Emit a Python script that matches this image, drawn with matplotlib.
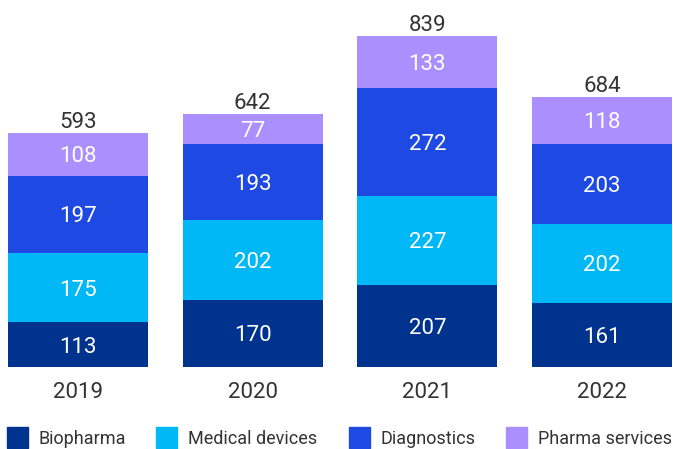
import matplotlib.pyplot as plt
from matplotlib.patches import Rectangle

plt.rcParams['font.family'] = ['Roboto', 'DejaVu Sans']

# Data
years = ['2019', '2020', '2021', '2022']
biopharma = [113, 170, 207, 161]
medical_devices = [175, 202, 227, 202]
diagnostics = [197, 193, 272, 203]
pharma_services = [108, 77, 133, 118]
totals = [593, 642, 839, 684]

series = [
    ('Biopharma', biopharma, '#00338D'),
    ('Medical devices', medical_devices, '#00B8F5'),
    ('Diagnostics', diagnostics, '#1E49E2'),
    ('Pharma services', pharma_services, '#AC8FFF'),
]

W, H = 673, 449
fig = plt.figure(figsize=(W / 100, H / 100), dpi=100)
ax = fig.add_axes([0, (H - 367) / H, 1, 367 / H])

# half digit height in data units (approx 7.8 px)
half_cap = 19.8

x = list(range(len(years)))
bottom = [0] * len(years)
for name, vals, color in series:
    ax.bar(x, vals, width=0.8, bottom=bottom, color=color, linewidth=0)
    for xi, b, v in zip(x, bottom, vals):
        ax.text(xi, b + v / 2 - half_cap, str(v), ha='center', va='baseline',
                color='white', fontsize=16)
    bottom = [b + v for b, v in zip(bottom, vals)]

for xi, t in zip(x, totals):
    ax.text(xi, t + 13, str(t), ha='center', va='baseline',
            color='#333333', fontsize=16)

ax.set_xlim(-0.4458, 3.4057)
ax.set_ylim(0, 930)
ax.axis('off')

# year labels
for xi, yr in zip(x, years):
    ax.text(xi, -78.6, yr, ha='center', va='baseline', color='#333333',
            fontsize=16, clip_on=False)

# legend
leg_x = [7, 156, 349, 506]
for (name, vals, color), lx in zip(series, leg_x):
    fig.add_artist(Rectangle((lx / W, (H - 448) / H), 21 / W, 21 / H,
                             color=color, transform=fig.transFigure))
    fig.text((lx + 32) / W, (H - 444) / H, name, ha='left', va='baseline',
             color='#333333', fontsize=13)

fig.savefig('out.png', dpi=100)
